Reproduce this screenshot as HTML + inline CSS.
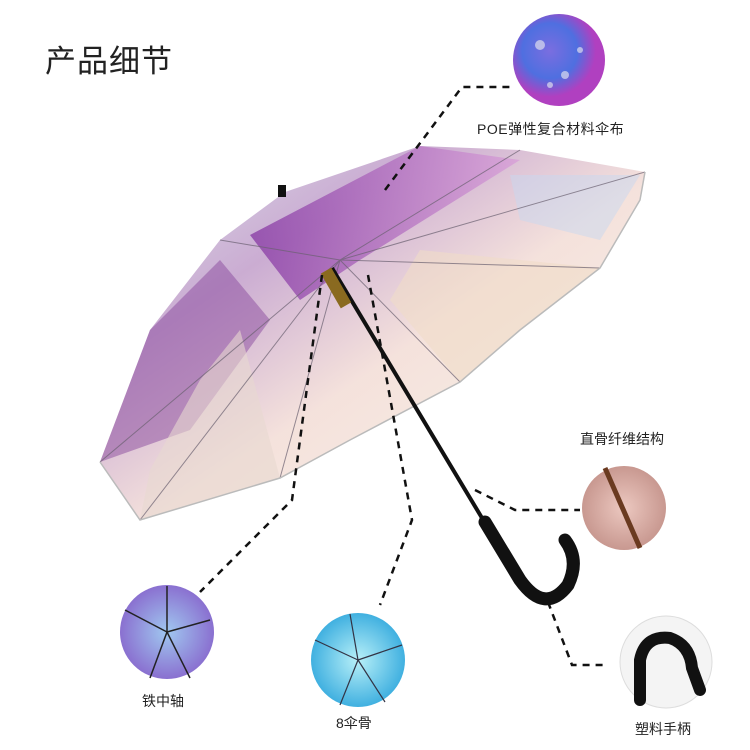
<!DOCTYPE html>
<html><head><meta charset="utf-8"><style>
html,body{margin:0;padding:0;background:#fff;width:750px;height:750px;overflow:hidden}
.t{position:absolute;font-family:"Liberation Sans","Noto Sans CJK SC",sans-serif;color:#222;white-space:nowrap}
</style></head><body>
<div class="t" style="left:45px;top:36px;font-size:31px;letter-spacing:1px">产品细节</div>
<div class="t" style="left:477px;top:119px;font-size:14px;letter-spacing:0.5px">POE弹性复合材料伞布</div>
<div class="t" style="left:580px;top:429px;font-size:14px">直骨纤维结构</div>
<div class="t" style="left:635px;top:719px;font-size:14px">塑料手柄</div>
<div class="t" style="left:142px;top:691px;font-size:14px">铁中轴</div>
<div class="t" style="left:336px;top:713px;font-size:14px">8伞骨</div>
<svg width="750" height="750" style="position:absolute;left:0;top:0">
<defs>
<linearGradient id="cn" x1="0" y1="0" x2="1" y2="1">
<stop offset="0" stop-color="#d8e2ea"/><stop offset="0.3" stop-color="#c8a8d0"/>
<stop offset="0.55" stop-color="#f4e0da"/><stop offset="0.8" stop-color="#f6ece2"/><stop offset="1" stop-color="#ece6f0"/>
</linearGradient>
<linearGradient id="cn2" x1="0" y1="0" x2="1" y2="0">
<stop offset="0" stop-color="#8a3ea6"/><stop offset="1" stop-color="#d8a0d8"/>
</linearGradient>
<radialGradient id="c1" cx="0.4" cy="0.4"><stop offset="0" stop-color="#7a6ee0"/><stop offset="0.6" stop-color="#4f6fe0"/><stop offset="1" stop-color="#b040c0"/></radialGradient>
<radialGradient id="c2"><stop offset="0" stop-color="#ecc8c0"/><stop offset="1" stop-color="#c89890"/></radialGradient>
<radialGradient id="c4"><stop offset="0" stop-color="#a0c8f0"/><stop offset="1" stop-color="#8a70d0"/></radialGradient>
<radialGradient id="c5"><stop offset="0" stop-color="#b8f0f8"/><stop offset="1" stop-color="#40b0e0"/></radialGradient>
</defs>
<polygon points="285,192 420,146 520,150 645,172 640,200 600,268 520,330 460,382 350,440 280,478 140,520 100,462 150,330 220,240" fill="url(#cn)" opacity="0.95"/>
<polygon points="250,235 420,146 520,160 440,210 360,260 300,300" fill="url(#cn2)" opacity="0.8"/>
<polygon points="100,462 150,330 220,260 270,320 190,430" fill="#8a4a9e" opacity="0.5"/>
<polygon points="420,250 600,268 520,330 460,382 390,300" fill="#f0dcc8" opacity="0.6"/>
<polygon points="150,470 200,380 240,330 280,478 140,520" fill="#e8d8d0" opacity="0.6"/>
<polygon points="510,175 640,175 600,240 520,220" fill="#c8d8f0" opacity="0.5"/>
<g stroke="#6a6070" stroke-width="1" fill="none" opacity="0.7">
<path d="M340,260 L100,462"/><path d="M340,260 L140,520"/><path d="M340,260 L280,478"/><path d="M340,260 L460,382"/>
<path d="M340,260 L600,268"/><path d="M340,260 L645,172"/><path d="M340,260 L520,150"/><path d="M340,260 L220,240"/>
</g>
<polyline points="100,462 140,520 280,478 350,440 460,382 520,330 600,268 640,200 645,172" stroke="#bbb" stroke-width="1.5" fill="none"/>
<rect x="278" y="185" width="8" height="12" fill="#111"/>
<path d="M332,268 L488,528" stroke="#111" stroke-width="4"/>
<rect x="330" y="268" width="12" height="40" fill="#8a6a20" transform="rotate(-30 336 288)"/>
<path d="M485,522 L520,580 Q545,615 568,585 Q580,560 565,540" stroke="#111" stroke-width="13" fill="none" stroke-linecap="round"/>
<g stroke="#111" stroke-width="2.5" stroke-dasharray="7,6" fill="none">
<path d="M385,190 L462,87 L510,87"/>
<path d="M322,275 L292,500 L200,592"/>
<path d="M368,275 L412,520 L380,605"/>
<path d="M475,490 L515,510 L580,510"/>
<path d="M548,602 L572,665 L608,665"/>
</g>
<circle cx="559" cy="60" r="46" fill="url(#c1)"/>
<g fill="#dde" opacity="0.7"><circle cx="540" cy="45" r="5"/><circle cx="565" cy="75" r="4"/><circle cx="580" cy="50" r="3"/><circle cx="550" cy="85" r="3"/></g>
<circle cx="624" cy="508" r="42" fill="url(#c2)"/>
<path d="M605,468 L640,548" stroke="#6a3a20" stroke-width="5"/>
<circle cx="666" cy="662" r="46" fill="#f4f4f4" stroke="#ddd"/>
<path d="M640,700 L640,660 Q645,635 670,638 Q690,645 692,668 L700,690" stroke="#111" stroke-width="12" fill="none" stroke-linecap="round"/>
<circle cx="167" cy="632" r="47" fill="url(#c4)"/>
<g stroke="#222" stroke-width="1.5"><path d="M167,632 L125,610"/><path d="M167,632 L210,620"/><path d="M167,632 L150,678"/><path d="M167,632 L190,678"/><path d="M167,632 L167,586"/></g>
<circle cx="358" cy="660" r="47" fill="url(#c5)"/>
<g stroke="#334" stroke-width="1.2"><path d="M358,660 L315,640"/><path d="M358,660 L402,645"/><path d="M358,660 L340,705"/><path d="M358,660 L385,702"/><path d="M358,660 L350,614"/></g>
</svg>
</body></html>
